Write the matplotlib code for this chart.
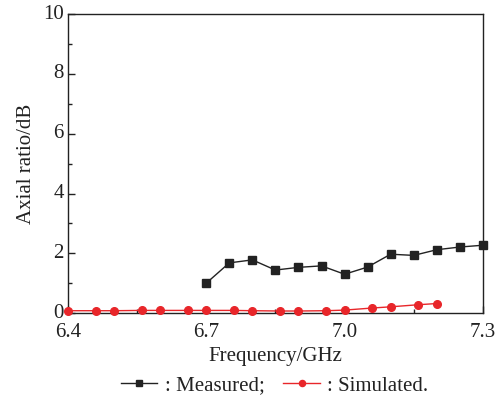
import matplotlib.pyplot as plt
from matplotlib.ticker import FixedLocator, MultipleLocator

plt.rcParams['font.family'] = ['Liberation Serif', 'DejaVu Serif']

# measured axial ratio
meas_freq = [6.70, 6.75, 6.80, 6.85, 6.90, 6.95, 7.00, 7.05, 7.10, 7.15, 7.20, 7.25, 7.30]
meas_ar = [1.00, 1.68, 1.78, 1.44, 1.53, 1.58, 1.30, 1.54, 1.97, 1.93, 2.12, 2.21, 2.27]

# simulated axial ratio
sim_freq = [6.40, 6.46, 6.50, 6.56, 6.60, 6.66, 6.70, 6.76, 6.80, 6.86, 6.90, 6.96,
            7.00, 7.06, 7.10, 7.16, 7.20]
sim_ar = [0.08, 0.08, 0.08, 0.09, 0.09, 0.09, 0.09, 0.09, 0.08, 0.07, 0.07, 0.08,
          0.10, 0.17, 0.21, 0.28, 0.32]

x_ticks = [6.4, 6.7, 7.0, 7.3]
x_minor = [6.55, 6.85, 7.15]

fig = plt.figure(figsize=(5.03, 4.04), dpi=100)
ax = fig.add_axes([0.135, 0.225, 0.825, 0.740])

ax.plot(meas_freq, meas_ar, color='#222222', lw=1.0, marker='s', ms=5.5,
        label=': Measured;', clip_on=False, zorder=3)
ax.plot(sim_freq, sim_ar, color='#e8262a', lw=1.0, marker='o', ms=5.5,
        label=': Simulated.', clip_on=False, zorder=3)

ax.set_xlim(6.4, 7.3)
ax.set_ylim(0, 10)
ax.xaxis.set_major_locator(FixedLocator(x_ticks))
ax.xaxis.set_minor_locator(FixedLocator(x_minor))
ax.yaxis.set_major_locator(MultipleLocator(2))
ax.yaxis.set_minor_locator(MultipleLocator(1))
ax.xaxis.set_major_formatter(plt.FuncFormatter(lambda v, p: '%.1f' % v))
ax.tick_params(which='both', direction='in', top=False, right=False, labelsize=15,
               colors='#222222', pad=3)
ax.tick_params(axis='x', which='both', pad=7)
ax.tick_params(which='major', length=5, width=1)
ax.tick_params(which='minor', length=3, width=1)
for lbl in ax.get_yticklabels():
    lbl.set_verticalalignment('center')
for s in ax.spines.values():
    s.set_linewidth(1.0)
    s.set_color('#222222')

ax.set_xlabel('Frequency/GHz', fontsize=15, color='#222222', labelpad=4)
ax.set_ylabel('Axial ratio/dB', fontsize=15, color='#222222', labelpad=5)

fig.legend(loc='center', bbox_to_anchor=(0.546, 0.045), ncol=2, frameon=False,
           fontsize=15, handlelength=1.75, handletextpad=0.35, columnspacing=0.9,
           markerscale=0.8, labelcolor='#222222')

fig.savefig('out.png', dpi=100)
